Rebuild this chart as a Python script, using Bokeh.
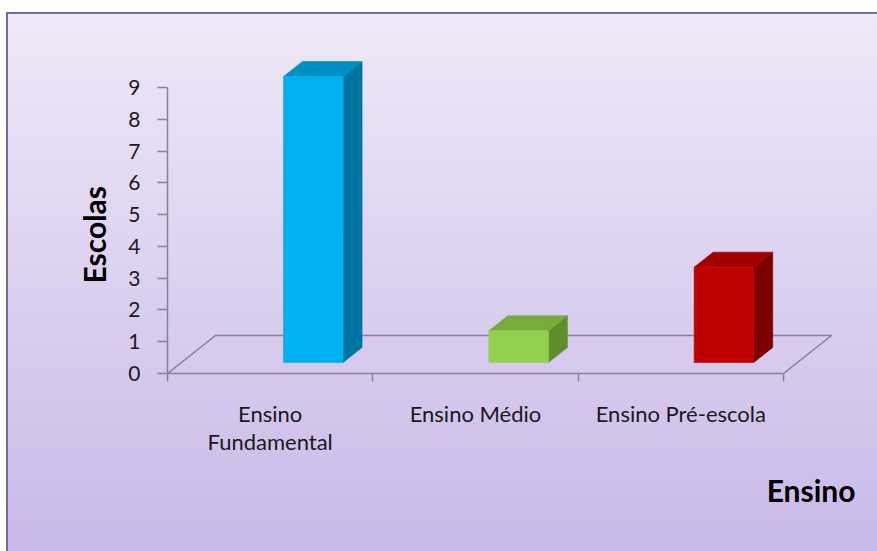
from bokeh.plotting import figure
from bokeh.models import FixedTicker, Title, Range1d
from bokeh.embed import file_html
from bokeh.resources import INLINE

# ---- data ----
categories = ["Ensino\nFundamental", "Ensino Médio", "Ensino Pré-escola"]
values = [9, 1, 3]
y_ticks = [0, 1, 2, 3, 4, 5, 6, 7, 8, 9]
front_colors = ["#00B0F0", "#92D050", "#C00000"]
top_colors = ["#0090C6", "#77AB3C", "#A30000"]
side_colors = ["#0075A1", "#5F8E2F", "#7D0000"]

# ---- layout / style ----
FONT = "Lato"
W, H = 877, 551
B_LEFT, B_RIGHT, B_TOP, B_BOTTOM = 167, 22, 50, 178
PX_X = 616 / 3      # pixels per category unit
PX_Y = 286 / 9      # pixels per value unit
n = len(categories)
x_end = (W - B_LEFT - B_RIGHT) / PX_X
y_end = (H - B_TOP - B_BOTTOM) / PX_Y

AXIS_COLOR = "#878196"

p = figure(width=W, height=H, output_backend="svg", toolbar_location=None,
           x_range=Range1d(0, x_end), y_range=Range1d(0, y_end),
           min_border_left=B_LEFT, min_border_right=B_RIGHT,
           min_border_top=B_TOP, min_border_bottom=B_BOTTOM)
p.title.text = ""
p.grid.visible = False
p.outline_line_color = None
p.background_fill_color = None
p.border_fill_color = None
p.styles = {
    "background": (
        "linear-gradient(#7b6898,#7b6898) 6px 12px / 100% 2px no-repeat, "
        "linear-gradient(#7b6898,#7b6898) 6px 12px / 2px 100% no-repeat, "
        "linear-gradient(to bottom, #EEE9F7, #C9B7E8) 8px 14px / 100% 100% no-repeat, "
        "#ffffff"
    )
}

# floor (3D base plane)
floor_dx = 48 / PX_X
floor_dy = 38 / PX_Y
p.line([0, floor_dx, n + floor_dx, n], [0, floor_dy, floor_dy, 0],
       line_color=AXIS_COLOR, line_width=1.5)

# bars
bar_shift = 0.21
bar_w = 0.29
base = 11 / PX_Y
dx = 19 / PX_X
dy = 15 / PX_Y

lefts = [i + 0.5 + bar_shift - bar_w / 2 for i in range(n)]
rights = [l + bar_w for l in lefts]
bottoms = [base] * n
tops = [base + v for v in values]

top_xs = [[l, r, r + dx, l + dx] for l, r in zip(lefts, rights)]
top_ys = [[t, t, t + dy, t + dy] for t in tops]
side_xs = [[r, r + dx, r + dx, r] for r in rights]
side_ys = [[b, b + dy, t + dy, t] for b, t in zip(bottoms, tops)]

p.patches(side_xs, side_ys, fill_color=side_colors, line_color=side_colors, line_width=0.6)
p.patches(top_xs, top_ys, fill_color=top_colors, line_color=top_colors, line_width=0.6)
p.quad(left=lefts, right=rights, bottom=bottoms, top=tops,
       fill_color=front_colors, line_color=front_colors, line_width=0.6)

# y axis
ya = p.yaxis[0]
ya.ticker = FixedTicker(ticks=y_ticks)
ya.bounds = (0, 9)
ya.axis_line_color = AXIS_COLOR
ya.axis_line_width = 1.5
ya.major_tick_line_color = AXIS_COLOR
ya.major_tick_line_width = 1.5
ya.major_tick_out = 10
ya.major_tick_in = 0
ya.minor_tick_line_color = None
ya.major_label_standoff = 17
ya.major_label_text_font = FONT
ya.major_label_text_font_size = "21px"
ya.major_label_text_color = "#1a1a1a"

# x axis
xa = p.xaxis[0]
centers = [i + 0.5 for i in range(n)]
xa.ticker = FixedTicker(ticks=centers, minor_ticks=list(range(n + 1)))
xa.major_label_overrides = {c: lab for c, lab in zip(centers, categories)}
xa.bounds = (0, n)
xa.axis_line_color = AXIS_COLOR
xa.axis_line_width = 1.5
xa.major_tick_line_color = None
xa.major_tick_out = 8
xa.major_tick_in = 0
xa.minor_tick_line_color = AXIS_COLOR
xa.minor_tick_line_width = 1.5
xa.minor_tick_out = 8
xa.minor_tick_in = 0
xa.major_label_standoff = 18
xa.major_label_text_font = FONT
xa.major_label_text_font_size = "22px"
xa.major_label_text_line_height = 1.05
xa.major_label_text_color = "#1a1a1a"

# axis titles
p.add_layout(Title(text="Escolas", align="left", offset=90, standoff=28,
                   text_font=FONT, text_font_size="30px", text_font_style="bold",
                   text_color="#000000"), "left")
p.add_layout(Title(text="Ensino", align="right", offset=0, standoff=24,
                   text_font=FONT, text_font_size="30px", text_font_style="bold",
                   text_color="#000000"), "below")

open("out.html", "w").write(file_html(p, INLINE))
